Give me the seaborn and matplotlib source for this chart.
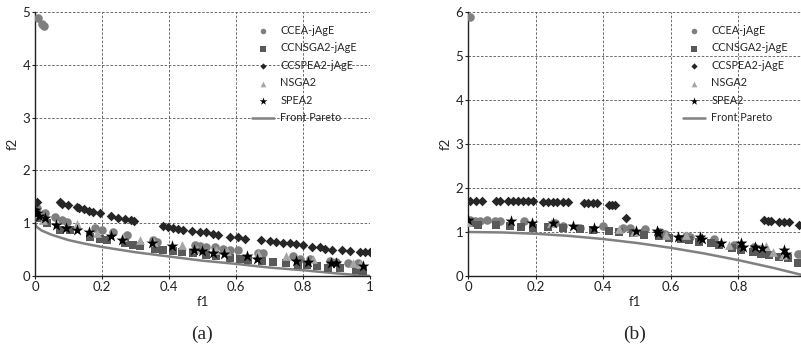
import pandas as pd
import matplotlib
matplotlib.use("Agg")
import matplotlib.pyplot as plt
import seaborn as sns

# ---- panel (a) data ----
a_ccea_x = [0.01, 0.02, 0.027, 0.005, 0.03, 0.06, 0.08, 0.095, 0.18, 0.2, 0.234, 0.274, 0.353, 0.363,
            0.478, 0.493, 0.512, 0.537, 0.562, 0.582, 0.607, 0.667, 0.682, 0.771, 0.791, 0.821,
            0.881, 0.9, 0.935, 0.965]
a_ccea_y = [4.89, 4.77, 4.73, 1.28, 1.19, 1.12, 1.06, 1.03, 0.9, 0.87, 0.84, 0.78, 0.68, 0.65,
            0.59, 0.57, 0.55, 0.54, 0.52, 0.5, 0.49, 0.44, 0.43, 0.37, 0.33, 0.32,
            0.29, 0.27, 0.24, 0.24]
a_ccnsga_x = [0.0, 0.007, 0.035, 0.075, 0.104, 0.164, 0.194, 0.214, 0.269, 0.294, 0.313, 0.358, 0.383,
              0.413, 0.438, 0.473, 0.512, 0.542, 0.582, 0.612, 0.637, 0.677, 0.711, 0.751, 0.786,
              0.811, 0.841, 0.876, 0.91, 0.96, 0.98]
a_ccnsga_y = [1.18, 1.09, 1.0, 0.88, 0.87, 0.74, 0.71, 0.68, 0.62, 0.59, 0.57, 0.52, 0.5,
              0.48, 0.46, 0.43, 0.4, 0.38, 0.35, 0.32, 0.3, 0.28, 0.26, 0.24, 0.21,
              0.2, 0.18, 0.16, 0.15, 0.11, 0.1]
a_ccspea_x = [0.005, 0.075, 0.08, 0.1, 0.125, 0.13, 0.146, 0.16, 0.174, 0.194, 0.226, 0.249, 0.269,
              0.286, 0.297, 0.381, 0.398, 0.413, 0.428, 0.443, 0.468, 0.493, 0.51, 0.532, 0.547,
              0.582, 0.607, 0.627, 0.674, 0.701, 0.721, 0.741, 0.761, 0.781, 0.801, 0.826, 0.851,
              0.866, 0.888, 0.917, 0.94, 0.97, 0.985, 1.0]
a_ccspea_y = [1.41, 1.41, 1.37, 1.34, 1.3, 1.28, 1.26, 1.24, 1.22, 1.19, 1.13, 1.1, 1.08,
              1.06, 1.04, 0.95, 0.93, 0.91, 0.89, 0.88, 0.86, 0.84, 0.83, 0.8, 0.78,
              0.74, 0.73, 0.71, 0.68, 0.66, 0.65, 0.63, 0.62, 0.6, 0.59, 0.55, 0.54,
              0.52, 0.5, 0.49, 0.48, 0.46, 0.45, 0.45]
a_nsga_x = [0.005, 0.025, 0.124, 0.184, 0.264, 0.313, 0.355, 0.438, 0.483, 0.542, 0.572, 0.667,
            0.751, 0.831, 0.95, 0.97]
a_nsga_y = [1.19, 1.06, 0.98, 0.81, 0.74, 0.69, 0.65, 0.59, 0.52, 0.49, 0.48, 0.43,
            0.37, 0.32, 0.24, 0.22]
a_spea_x = [0.0, 0.005, 0.013, 0.03, 0.063, 0.093, 0.124, 0.16, 0.226, 0.259, 0.35, 0.408, 0.476,
            0.498, 0.532, 0.565, 0.634, 0.662, 0.781, 0.814, 0.884, 0.9, 0.98]
a_spea_y = [1.25, 1.19, 1.13, 1.09, 0.96, 0.91, 0.87, 0.83, 0.76, 0.69, 0.62, 0.57, 0.49,
            0.48, 0.44, 0.42, 0.38, 0.33, 0.28, 0.26, 0.24, 0.24, 0.18]
a_front_x = [0.0, 0.005, 0.02, 0.05, 0.1, 0.15, 0.2, 0.3, 0.4, 0.5, 0.6, 0.7, 0.8, 0.9, 1.0]
a_front_y = [1.0, 0.93, 0.86, 0.78, 0.68, 0.61, 0.55, 0.45, 0.37, 0.29, 0.23, 0.16, 0.11, 0.05, 0.0]

# ---- panel (b) data ----
b_ccea_x = [0.005, 0.005, 0.02, 0.035, 0.056, 0.079, 0.094, 0.167, 0.256, 0.282, 0.33, 0.4, 0.458,
            0.48, 0.525, 0.569, 0.584, 0.644, 0.658, 0.728, 0.787, 0.847, 0.975, 0.985]
b_ccea_y = [5.88, 1.27, 1.26, 1.26, 1.27, 1.26, 1.25, 1.26, 1.2, 1.13, 1.08, 1.13, 1.1,
            1.08, 1.06, 1.01, 0.95, 0.91, 0.89, 0.83, 0.7, 0.67, 0.51, 0.5]
b_ccnsga_x = [0.005, 0.03, 0.084, 0.124, 0.158, 0.193, 0.238, 0.282, 0.33, 0.371, 0.416, 0.446, 0.487,
              0.522, 0.566, 0.596, 0.63, 0.655, 0.684, 0.719, 0.743, 0.782, 0.807, 0.842, 0.866,
              0.891, 0.921, 0.946, 0.975]
b_ccnsga_y = [1.21, 1.17, 1.16, 1.13, 1.12, 1.08, 1.12, 1.08, 1.06, 1.04, 1.03, 0.99, 0.97,
              0.93, 0.91, 0.87, 0.83, 0.82, 0.78, 0.74, 0.7, 0.63, 0.59, 0.55, 0.51,
              0.48, 0.44, 0.4, 0.29]
b_ccspea_x = [0.005, 0.025, 0.042, 0.082, 0.094, 0.119, 0.134, 0.149, 0.163, 0.178, 0.191, 0.223, 0.238,
              0.252, 0.264, 0.282, 0.297, 0.342, 0.356, 0.371, 0.383, 0.416, 0.426, 0.436, 0.466,
              0.876, 0.886, 0.896, 0.921, 0.936, 0.95, 0.98]
b_ccspea_y = [1.71, 1.71, 1.71, 1.71, 1.71, 1.71, 1.71, 1.71, 1.71, 1.71, 1.71, 1.69, 1.69,
              1.69, 1.69, 1.69, 1.69, 1.65, 1.65, 1.65, 1.65, 1.61, 1.61, 1.61, 1.31,
              1.27, 1.26, 1.26, 1.23, 1.23, 1.23, 1.16]
b_nsga_x = [0.0, 0.246, 0.448, 0.492, 0.586, 0.645, 0.773, 0.881, 0.901, 0.931]
b_nsga_y = [1.23, 1.2, 1.06, 1.01, 0.93, 0.93, 0.7, 0.68, 0.55, 0.48]
b_spea_x = [0.0, 0.127, 0.188, 0.25, 0.312, 0.374, 0.498, 0.559, 0.562, 0.622, 0.685, 0.693, 0.748,
            0.807, 0.812, 0.849, 0.871, 0.936, 0.941]
b_spea_y = [1.27, 1.25, 1.21, 1.21, 1.13, 1.08, 1.03, 1.02, 0.97, 0.89, 0.89, 0.85, 0.76,
            0.74, 0.67, 0.67, 0.63, 0.6, 0.51]
b_front_x = [0.0, 0.1, 0.2, 0.3, 0.4, 0.5, 0.6, 0.7, 0.8, 0.9, 0.985]
b_front_y = [1.0, 0.99, 0.96, 0.91, 0.84, 0.75, 0.64, 0.51, 0.36, 0.19, 0.03]

names = ["CCEA-jAgE", "CCNSGA2-jAgE", "CCSPEA2-jAgE", "NSGA2", "SPEA2"]
styles = {
    "CCEA-jAgE": dict(marker="o", color="#7f7f7f", s=38),
    "CCNSGA2-jAgE": dict(marker="s", color="#595959", s=32),
    "CCSPEA2-jAgE": dict(marker="D", color="#262626", s=24),
    "NSGA2": dict(marker="^", color="#a6a6a6", s=40),
    "SPEA2": dict(marker="*", color="#000000", s=80),
}

sns.set_style("white")
plt.rcParams["font.family"] = ["Lato", "DejaVu Sans"]

fig = plt.figure(figsize=(8.01, 3.47), dpi=100)
ax_a = fig.add_axes([0.0437, 0.2046, 0.418, 0.761])
ax_b = fig.add_axes([0.5843, 0.2046, 0.4157, 0.761])

panels = [
    (ax_a, [(a_ccea_x, a_ccea_y), (a_ccnsga_x, a_ccnsga_y), (a_ccspea_x, a_ccspea_y),
            (a_nsga_x, a_nsga_y), (a_spea_x, a_spea_y)], (a_front_x, a_front_y),
     (0, 1), (0, 5), [0, 0.2, 0.4, 0.6, 0.8, 1], ["0", "0.2", "0.4", "0.6", "0.8", "1"], "(a)"),
    (ax_b, [(b_ccea_x, b_ccea_y), (b_ccnsga_x, b_ccnsga_y), (b_ccspea_x, b_ccspea_y),
            (b_nsga_x, b_nsga_y), (b_spea_x, b_spea_y)], (b_front_x, b_front_y),
     (0, 0.985), (0, 6), [0, 0.2, 0.4, 0.6, 0.8], ["0", "0.2", "0.4", "0.6", "0.8"], "(b)"),
]

for ax, series, front, xlim, ylim, xt, xtl, cap in panels:
    for name, (xs, ys) in zip(names, series):
        df = pd.DataFrame({"f1": xs, "f2": ys})
        st = styles[name]
        sns.scatterplot(data=df, x="f1", y="f2", ax=ax, marker=st["marker"], color=st["color"],
                        s=st["s"], linewidth=0, label=name, zorder=3)
    fdf = pd.DataFrame({"f1": front[0], "f2": front[1]})
    sns.lineplot(data=fdf, x="f1", y="f2", ax=ax, color="#808080", linewidth=1.8,
                 label="Front Pareto", sort=False, estimator=None, zorder=2)
    ax.set_xlim(*xlim)
    ax.set_ylim(*ylim)
    ax.set_xticks(xt)
    ax.set_xticklabels(xtl)
    ax.set_yticks(range(ylim[1] + 1))
    ax.grid(True, linestyle=(0, (3, 2)), color="#555555", linewidth=0.6)
    ax.set_axisbelow(True)
    for side in ["top", "right"]:
        ax.spines[side].set_visible(False)
    for side in ["left", "bottom"]:
        ax.spines[side].set_color("#222222")
        ax.spines[side].set_linewidth(1.0)
    ax.tick_params(axis="both", labelsize=9.5, length=2.5, width=0.8, direction="out", pad=1,
                   colors="#222222", left=True, bottom=True)
    ax.set_xlabel("f1", fontsize=9.5, labelpad=2)
    ax.set_ylabel("f2", fontsize=9.5, labelpad=3)
    leg = ax.legend(loc="upper right", frameon=False, fontsize=7.8, handlelength=2.0,
                    handletextpad=0.6, labelspacing=0.6, borderaxespad=0.8, markerscale=0.65)
    ax.text(0.5, -0.222, cap, transform=ax.transAxes, ha="center", va="center",
            fontsize=14, family=["Liberation Serif", "DejaVu Serif"])

fig.savefig("out.png", dpi=100)
